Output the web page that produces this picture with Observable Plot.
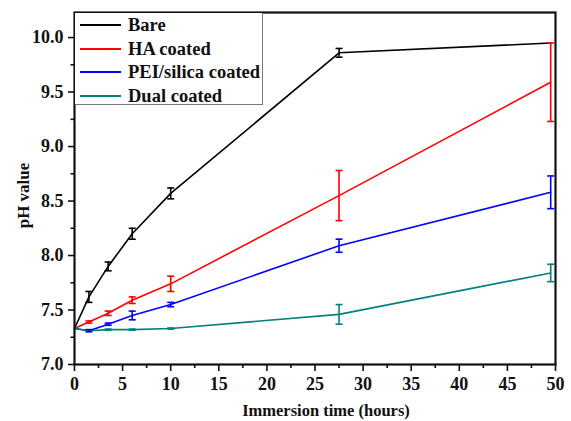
<!DOCTYPE html>
<html><head><meta charset="utf-8">
<script src="https://cdn.jsdelivr.net/npm/d3@7"></script>
<script src="https://cdn.jsdelivr.net/npm/@observablehq/plot@0.6"></script>
<style>
body{margin:0;background:#fff;}
#wrap{position:relative;width:571px;height:421px;font-family:"Liberation Serif","Times New Roman",serif;}
#legend{position:absolute;left:75px;top:13px;width:188px;height:92px;box-sizing:border-box;border-right:1px solid #777;border-bottom:1px solid #777;background:#fff;}
.row{position:absolute;left:0;height:22px;width:186px;}
.sw{position:absolute;left:5px;top:10px;width:41px;height:2px;}
.lb{position:absolute;left:53px;top:0;line-height:22px;font-size:18.5px;font-weight:bold;color:#111;white-space:nowrap;}
</style>
</head><body>
<div id="wrap"><div id="chart"></div><div id="legend"></div></div>
<script>
const hours = [0, 1.5, 3.5, 6, 10, 27.5, 49.5];
const series = ["Bare", "HA coated", "PEI/silica coated", "Dual coated"];
const colors = ["#000000", "#ff0000", "#0000ff", "#008080"];
const bare    = [7.33, 7.62, 7.90, 8.20, 8.57, 9.86, 9.95];
const bareErr = [0, 0.05, 0.04, 0.05, 0.05, 0.04, 0];
const ha      = [7.33, 7.39, 7.47, 7.59, 7.74, 8.55, 9.59];
const haErr   = [0, 0.01, 0.02, 0.03, 0.07, 0.23, 0.36];
const pei     = [7.33, 7.31, 7.37, 7.45, 7.55, 8.09, 8.58];
const peiErr  = [0, 0.01, 0.01, 0.04, 0.02, 0.06, 0.15];
const dual    = [7.33, 7.31, 7.32, 7.32, 7.33, 7.46, 7.84];
const dualErr = [0, 0, 0.005, 0.005, 0.005, 0.09, 0.08];
const yTicks = [7.0, 7.5, 8.0, 8.5, 9.0, 9.5, 10.0];
const yMinor = [7.25, 7.75, 8.25, 8.75, 9.25, 9.75];
const xTicks = [0, 5, 10, 15, 20, 25, 30, 35, 40, 45, 50];
const xMinor = [2.5, 7.5, 12.5, 17.5, 22.5, 27.5, 32.5, 37.5, 42.5, 47.5];

const vals = [bare, ha, pei, dual];
const errs = [bareErr, haErr, peiErr, dualErr];
const rows = [];
series.forEach((s, i) => hours.forEach((h, j) => rows.push({series: s, hours: h, ph: vals[i][j], err: errs[i][j]})));
const withErr = rows.filter(d => d.err > 0);
const caps = withErr.flatMap(d => [{series: d.series, hours: d.hours, y: d.ph - d.err}, {series: d.series, hours: d.hours, y: d.ph + d.err}]);
const capSymbol = {draw(ctx, size) { const r = Math.sqrt(size / Math.PI); ctx.moveTo(-r, 0); ctx.lineTo(r, 0); }};

const chart = Plot.plot({
  width: 571, height: 421,
  marginLeft: 74, marginRight: 16, marginTop: 12, marginBottom: 57,
  x: {domain: [0, 50]},
  y: {domain: [7, 10.23]},
  color: {domain: series, range: colors},
  style: {fontFamily: "'Liberation Serif', 'Times New Roman', serif", fontSize: "18px", fontWeight: "bold", color: "#111", background: "#fff"},
  marks: [
    Plot.axisY({ticks: yTicks, tickSize: 6, tickPadding: 5, tickFormat: d3.format(".1f"), label: null, strokeWidth: 1.6}),
    Plot.axisY({ticks: yMinor, tickSize: 3.5, text: null, label: null, strokeWidth: 1.6}),
    Plot.axisX({ticks: xTicks, tickSize: 7, tickPadding: 6, label: null, strokeWidth: 1.6}),
    Plot.axisX({ticks: xMinor, tickSize: 4, text: null, label: null, strokeWidth: 1.6}),
    Plot.line(rows, {x: "hours", y: "ph", stroke: "series", z: "series", strokeWidth: 1.6}),
    Plot.ruleX(withErr, {x: "hours", y1: d => d.ph - d.err, y2: d => d.ph + d.err, stroke: "series", strokeWidth: 1.6}),
    Plot.dot(caps, {x: "hours", y: "y", symbol: capSymbol, r: 3.5, fill: "none", stroke: "series", strokeWidth: 1.6}),
    Plot.frame({strokeWidth: 2.2}),
    Plot.text(["pH value"], {frameAnchor: "left", rotate: -90, textAnchor: "middle", dx: -51, dy: 7, fontSize: 17}),
    Plot.text(["Immersion time (hours)"], {frameAnchor: "bottom", textAnchor: "middle", lineAnchor: "middle", dx: 11, dy: 46, fontSize: 16.5})
  ]
});
document.getElementById("chart").appendChild(chart);

const legend = document.getElementById("legend");
series.forEach((s, i) => {
  const row = document.createElement("div");
  row.className = "row";
  row.style.top = (1 + i * 23.5) + "px";
  const sw = document.createElement("div");
  sw.className = "sw";
  sw.style.background = colors[i];
  const lb = document.createElement("div");
  lb.className = "lb";
  lb.textContent = s;
  row.appendChild(sw); row.appendChild(lb);
  legend.appendChild(row);
});
</script>
</body></html>
